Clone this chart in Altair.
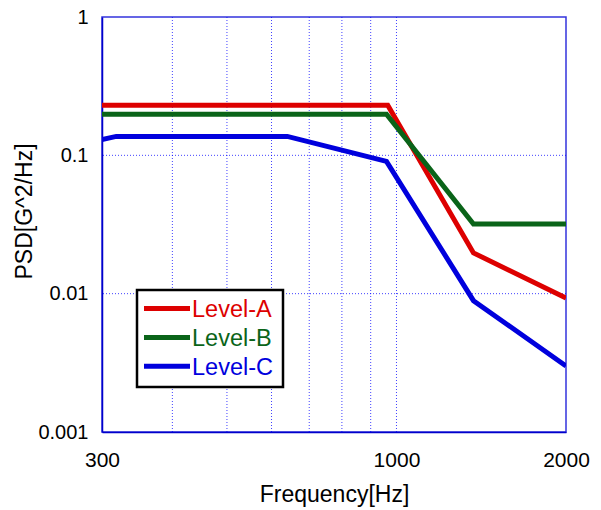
import altair as alt
import pandas as pd

series = ["Level-A", "Level-B", "Level-C"]
colors = ["#dd0000", "#0a6419", "#0000dd"]

freq_a = [300, 965, 1370, 2000]
psd_a = [0.23, 0.23, 0.0197, 0.0093]
freq_b = [300, 960, 1370, 2000]
psd_b = [0.198, 0.198, 0.0319, 0.0319]
freq_c = [300, 318, 640, 960, 1370, 2000]
psd_c = [0.13, 0.137, 0.137, 0.0905, 0.0089, 0.003]

x_ticks = [300, 1000, 2000]
x_grid = [400, 500, 600, 700, 800, 900, 1000]
y_ticks = [0.001, 0.01, 0.1, 1]
y_grid = [0.01, 0.1]

rows = []
for name, fs, ps in [("Level-A", freq_a, psd_a), ("Level-B", freq_b, psd_b), ("Level-C", freq_c, psd_c)]:
    for i, (f, p) in enumerate(zip(fs, ps)):
        rows.append({"series": name, "freq": f, "psd": p, "order": i})
df = pd.DataFrame(rows)

xscale = alt.Scale(type="log", domain=[300, 2000], nice=False)
yscale = alt.Scale(type="log", domain=[0.001, 1], nice=False)

grid_color = "#0000ff"

vgrid = alt.Chart(pd.DataFrame({"freq": x_grid})).mark_rule(
    stroke=grid_color, strokeDash=[1, 2], strokeWidth=1, opacity=0.75
).encode(x=alt.X("freq:Q", scale=xscale))

hgrid = alt.Chart(pd.DataFrame({"psd": y_grid})).mark_rule(
    stroke=grid_color, strokeDash=[1, 2], strokeWidth=1, opacity=0.75
).encode(y=alt.Y("psd:Q", scale=yscale))

lines = alt.Chart(df).mark_line(strokeWidth=5, clip=True).encode(
    x=alt.X(
        "freq:Q",
        scale=xscale,
        axis=alt.Axis(
            values=x_ticks,
            format="d",
            title="Frequency[Hz]",
            grid=False,
            ticks=False,
            labelFontSize=21,
            labelPadding=17,
            labelColor="black",
            labelFont="Liberation Sans",
            titleFont="Liberation Sans",
            titleFontSize=23,
            titleFontWeight="normal",
            titleColor="black",
            titleY=69,
            titleBaseline="alphabetic",
            domainColor="#0000cc",
            domainWidth=1.5,
            labelFlush=False,
            labelOverlap=False,
        ),
    ),
    y=alt.Y(
        "psd:Q",
        scale=yscale,
        axis=alt.Axis(
            values=y_ticks,
            title="PSD[G^2/Hz]",
            grid=False,
            ticks=False,
            labelFontSize=20,
            labelPadding=14,
            labelColor="black",
            labelFont="Liberation Sans",
            titleFont="Liberation Sans",
            titleFontSize=23,
            titleFontWeight="normal",
            titleColor="black",
            titleX=-78,
            titleY=194,
            titleAngle=-90,
            titleAlign="center",
            titleBaseline="middle",
            domainColor="#0000cc",
            domainWidth=1.5,
            labelFlush=False,
            labelOverlap=False,
            format="~g",
        ),
    ),
    color=alt.Color(
        "series:N",
        scale=alt.Scale(domain=series, range=colors),
        legend=None,
    ),
    order="order:Q",
)

# legend box (drawn manually to match the reference)
legend_box = alt.Chart(pd.DataFrame({"k": [0]})).mark_rect(
    fill="white", stroke="black", strokeWidth=2.5
).encode(x=alt.value(35), x2=alt.value(181), y=alt.value(273), y2=alt.value(370))

legend_layers = [legend_box]
sym_y = [291.5, 320.5, 349.3]
for i, name in enumerate(series):
    d = pd.DataFrame({"series": [name]})
    legend_layers.append(
        alt.Chart(d).mark_rule(stroke=colors[i], strokeWidth=5).encode(
            x=alt.value(42), x2=alt.value(88), y=alt.value(sym_y[i])
        )
    )
    legend_layers.append(
        alt.Chart(d).mark_text(
            align="left", baseline="middle", fontSize=23.5, font="Liberation Sans",
            color=colors[i], dy=1.5
        ).encode(x=alt.value(90), y=alt.value(sym_y[i]), text="series:N")
    )

chart = (
    alt.layer(vgrid, hgrid, lines, *legend_layers)
    .properties(
        width=464,
        height=415,
        autosize=alt.AutoSizeParams(type="none"),
        padding={"left": 94, "top": 9, "right": 27, "bottom": 78},
        background="white",
    )
    .configure_view(stroke="#3333dd", strokeWidth=1.5)
)

chart.save("out.html", embed_options={"renderer": "svg", "actions": False})
